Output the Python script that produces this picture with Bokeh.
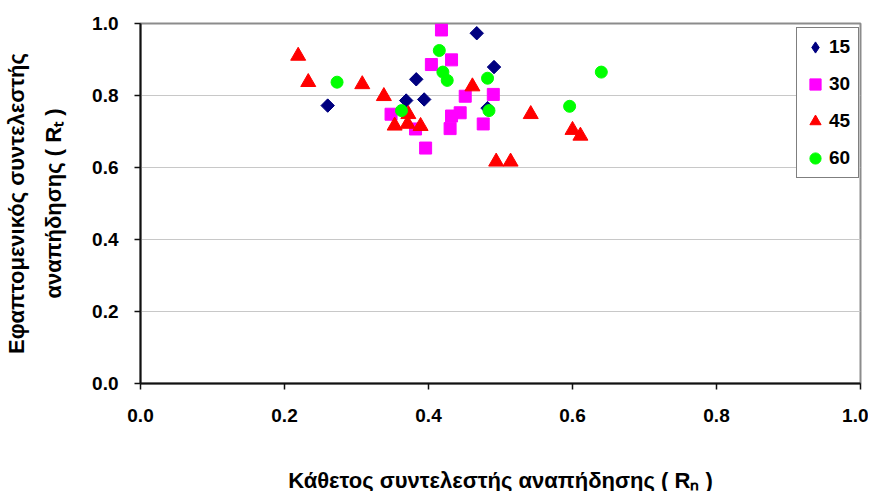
import math
from bokeh.plotting import figure
from bokeh.models import (Range1d, FixedTicker, NumeralTickFormatter, Legend,
                          LegendItem, LinearAxis, ColumnDataSource)
from bokeh.embed import file_html
from bokeh.resources import INLINE

# ---- data ----
x15 = [0.260, 0.369, 0.383, 0.394, 0.467, 0.482, 0.491]
y15 = [0.772, 0.786, 0.845, 0.789, 0.973, 0.765, 0.879]

x30 = [0.348, 0.382, 0.396, 0.404, 0.418, 0.430, 0.432, 0.432, 0.444, 0.451, 0.476, 0.490]
y30 = [0.748, 0.707, 0.654, 0.886, 0.982, 0.708, 0.899, 0.743, 0.752, 0.798, 0.721, 0.803]

x45 = [0.219, 0.233, 0.308, 0.338, 0.353, 0.371, 0.372, 0.389, 0.461, 0.494, 0.514, 0.542, 0.600, 0.611]
y45 = [0.910, 0.837, 0.831, 0.798, 0.716, 0.721, 0.748, 0.715, 0.825, 0.616, 0.616, 0.748, 0.704, 0.688]

x60 = [0.273, 0.3625, 0.415, 0.420, 0.426, 0.482, 0.484, 0.596, 0.640]
y60 = [0.837, 0.758, 0.925, 0.865, 0.842, 0.848, 0.758, 0.770, 0.865]

series_names = ["15", "30", "45", "60"]
tick_values = [0.0, 0.2, 0.4, 0.6, 0.8, 1.0]
x_title = "Κάθετος συντελεστής αναπήδησης ( Rₙ )"
y_title_1 = "Εφαπτομενικός συντελεστής"
y_title_2 = "αναπήδησης ( Rₜ )"

FONT = "Liberation Sans"
FS = "19px"
FS_TITLE = "22px"

p = figure(frame_width=720, frame_height=360,
           min_border_left=139, min_border_right=8,
           min_border_top=23, min_border_bottom=108,
           x_range=Range1d(0, 1), y_range=Range1d(0, 1),
           output_backend="svg", toolbar_location=None,
           background_fill_color="white", border_fill_color="white")

p.outline_line_color = "#8c8c8c"
p.outline_line_width = 2

for ax in (p.xaxis[0], p.yaxis[0]):
    ax.ticker = FixedTicker(ticks=tick_values)
    ax.formatter = NumeralTickFormatter(format="0.0")
    ax.major_label_text_font = FONT
    ax.major_label_text_font_style = "bold"
    ax.major_label_text_font_size = FS
    ax.major_label_text_color = "black"
    ax.axis_line_color = "#111111"
    ax.axis_line_width = 2
    ax.major_tick_line_color = "#111111"
    ax.major_tick_line_width = 1.5
    ax.major_tick_in = 0
    ax.major_tick_out = 6
    ax.minor_tick_line_color = None
    ax.axis_label_text_font = FONT
    ax.axis_label_text_font_style = "bold"
    ax.axis_label_text_font_size = FS_TITLE
    ax.axis_label_text_color = "black"

p.xaxis[0].major_label_standoff = 19
p.xaxis[0].axis_label = x_title
p.xaxis[0].axis_label_standoff = 43

p.yaxis[0].major_label_standoff = 16
p.yaxis[0].axis_label = y_title_2
p.yaxis[0].axis_label_standoff = 23

# outer line of the y title, as a second (tick-less) axis
outer = LinearAxis(axis_label=y_title_1, ticker=FixedTicker(ticks=[]),
                   axis_line_color=None, major_tick_line_color=None,
                   minor_tick_line_color=None, major_tick_in=0, major_tick_out=0,
                   minor_tick_in=0, minor_tick_out=0,
                   major_label_standoff=0, major_label_text_font_size="0px",
                   axis_label_standoff=10,
                   axis_label_text_font=FONT, axis_label_text_font_style="bold",
                   axis_label_text_font_size=FS_TITLE, axis_label_text_color="black")
p.add_layout(outer, "left")

p.xgrid.grid_line_color = None
p.ygrid.grid_line_color = "#c8c8c8"
p.ygrid.grid_line_width = 1
p.ygrid.ticker = FixedTicker(ticks=tick_values)

src15 = ColumnDataSource(dict(x=x15, y=y15))
# legend swatch for the diamond series (the legend ignores marker angle);
# drawn first so it sits fully hidden under the rotated squares below
r15_key = p.scatter("x", "y", source=src15, marker="diamond", size=12,
                    fill_color="#000080", line_color="#000080")
r15 = p.scatter("x", "y", source=src15, marker="square", size=9.5,
                angle=math.pi / 4, fill_color="#000080", line_color="#000080")
r30 = p.scatter(x30, y30, marker="square", size=12,
                fill_color="#ff00ff", line_color="#ff00ff")
r45 = p.scatter(x45, y45, marker="triangle", size=15,
                fill_color="#ff0000", line_color="#ff0000")
r60 = p.scatter(x60, y60, marker="circle", size=12,
                fill_color="#00ff00", line_color="#00ff00")

legend = Legend(items=[LegendItem(label=n, renderers=[r])
                       for n, r in zip(series_names, [r15_key, r30, r45, r60])],
                location=(656, 205),
                glyph_width=28, glyph_height=30, spacing=7, padding=4,
                label_standoff=0, label_width=25, label_height=30,
                label_text_font=FONT, label_text_font_style="bold",
                label_text_font_size=FS, label_text_color="black",
                border_line_color="black", border_line_width=1,
                background_fill_color="white", background_fill_alpha=1,
                margin=0)
p.add_layout(legend, "center")

open("out.html", "w").write(file_html(p, INLINE))
